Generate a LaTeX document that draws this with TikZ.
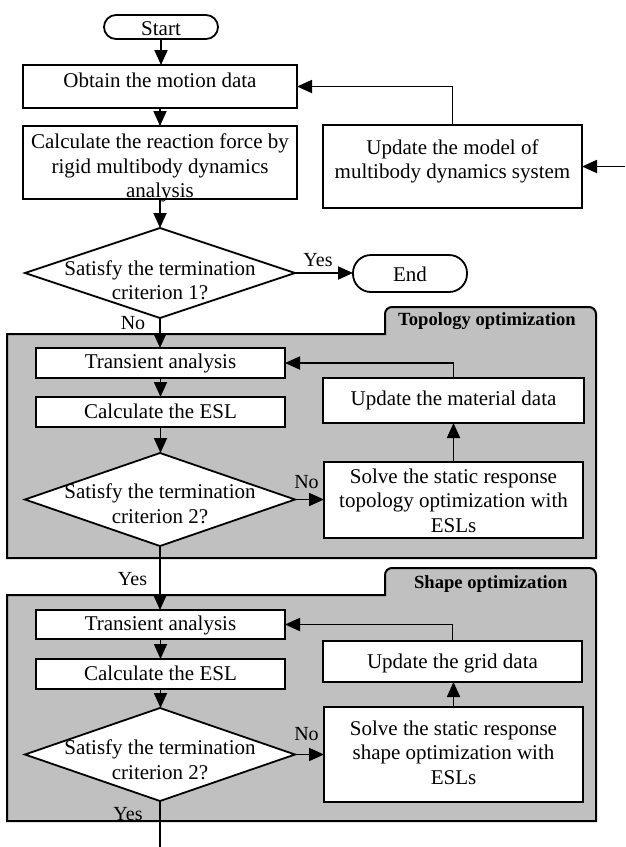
\documentclass[tikz,border=0pt]{standalone}
\usepackage{fontspec}
\setmainfont{Liberation Serif}
\usetikzlibrary{arrows.meta,shapes.geometric}
\definecolor{panelgray}{RGB}{192,192,192}
\newcommand\tx[2]{\makebox[0pt]{\raisebox{#1}[0pt][0pt]{\begin{tabular}[t]{@{}c@{}}#2\end{tabular}}}}
\begin{document}
\begin{tikzpicture}[x=1pt,y=-1pt,
  line width=1.8pt,
  font=\fontsize{21}{24.5}\selectfont,
  box/.style={draw,fill=white,rectangle,inner sep=0pt,outer sep=0pt},
  term/.style={box,rounded corners=12pt},
  dia/.style={draw,fill=white,diamond,inner sep=0pt,outer sep=0pt,minimum width=270pt,minimum height=90pt},
  panel/.style={draw,fill=panelgray,line width=2pt},
  plabel/.style={font=\fontsize{18.6}{22}\selectfont\bfseries,anchor=base},
  yn/.style={font=\fontsize{20}{24}\selectfont,anchor=base},
  arr/.style={-{Triangle[length=15pt,width=13pt]}}]
\useasboundingbox (0,0) rectangle (625,847);

% ---------- panels ----------
\draw[panel] (7,558) -- (7,334) -- (385,334) [rounded corners=7pt] -- (385,307) -- (596,307) [sharp corners] -- (596,558) -- cycle;
\node[plabel] (topo) at (487,325) {Topology optimization};
\draw[panel] (7,821) -- (7,595) -- (385,595) [rounded corners=7pt] -- (385,568) -- (596,568) [sharp corners] -- (596,821) -- cycle;
\node[plabel] (shapelbl) at (490.8,588.3) {Shape optimization};

% ---------- top part ----------
\node[term,minimum width=114pt,minimum height=24pt] (start) at (161,27) {\tx{-8pt}{Start}};
\node[box,minimum width=274pt,minimum height=43pt] (obtain) at (160,86.5) {\tx{-1pt}{Obtain the motion data}};
\node[box,minimum width=274pt,minimum height=73pt] (calc) at (160,162.5) {\tx{14pt}{Calculate the reaction force by\\rigid multibody dynamics\\analysis}};
\node[box,minimum width=259pt,minimum height=83pt] (model) at (452.5,166.5) {\tx{12.5pt}{Update the model of\\multibody dynamics system}};
\node[dia] (d1) at (160,273) {\tx{-2pt}{Satisfy the termination\\criterion 1?}};
\node[term,rounded corners=18pt,minimum width=114pt,minimum height=37pt] (stop) at (410,273.5) {\tx{-7.5pt}{End}};

% ---------- topology optimization ----------
\node[box,minimum width=249pt,minimum height=30pt] (ta1) at (160.5,363) {\tx{-5.3pt}{Transient analysis}};
\node[box,minimum width=249pt,minimum height=30pt] (ce1) at (160.5,412) {\tx{-6.3pt}{Calculate the ESL}};
\node[dia,minimum height=93pt] (d2) at (160,499.5) {\tx{1pt}{Satisfy the termination\\criterion 2?}};
\node[box,minimum width=261pt,minimum height=45pt] (umat) at (453.5,400.5) {\tx{-4.5pt}{Update the material data}};
\node[box,minimum width=259pt,minimum height=76pt] (solve1) at (453.5,500) {\tx{16.7pt}{Solve the static response\\topology optimization with\\ESLs}};

% ---------- shape optimization ----------
\node[box,minimum width=249pt,minimum height=29pt] (ta2) at (160.5,624.5) {\tx{-6.2pt}{Transient analysis}};
\node[box,minimum width=249pt,minimum height=30pt] (ce2) at (160.5,674) {\tx{-6pt}{Calculate the ESL}};
\node[dia,minimum height=93pt] (d3) at (160,754.5) {\tx{0pt}{Satisfy the termination\\criterion 2?}};
\node[box,minimum width=259pt,minimum height=41pt] (ugrid) at (452.5,661.5) {\tx{-6.8pt}{Update the grid data}};
\node[box,minimum width=259pt,minimum height=95pt] (solve2) at (453.5,754.5) {\tx{19.5pt}{Solve the static response\\shape optimization with\\ESLs}};

% ---------- connectors ----------
\coordinate (modelin) at (625,166.5);
\coordinate (exit) at (160,847);
\draw[arr] (start.south) -- (start.south |- obtain.north);
\draw[arr] (obtain) -- (calc);
\draw[arr] (calc) -- (d1);
\draw[arr] (d1.east) -- (d1.east -| stop.west);
\draw[arr] (modelin) -- (model.east);
\draw[arr] (model.north) |- (obtain.east);
\draw[arr] (d1.south) -- (d1.south |- ta1.north);

\draw[arr] (ta1.south) -- (ta1.south |- ce1.north);
\draw[arr] (ce1.south) -- (ce1.south |- d2.north);
\draw[arr] (d2.east) -- (d2.east -| solve1.west);
\draw[arr] (solve1.north) -- (solve1.north |- umat.south);
\draw[arr] (umat.north) |- (ta1.east);
\draw[arr] (d2.south) -- (d2.south |- ta2.north);

\draw[arr] (ta2.south) -- (ta2.south |- ce2.north);
\draw[arr] (ce2.south) -- (ce2.south |- d3.north);
\draw[arr] (d3.east) -- (d3.east -| solve2.west);
\draw[arr] (solve2.north) -- (solve2.north |- ugrid.south);
\draw[arr] (ugrid.north) |- (ta2.east);
\draw (d3.south) -- (exit);

% ---------- labels ----------
\node[yn] (yes1) at (318,266.7) {Yes};
\node[yn] (no1) at (133,329) {No};
\node[yn] (no2) at (306.5,488) {No};
\node[yn] (yes2) at (132.5,585.7) {Yes};
\node[yn] (no3) at (306.5,740) {No};
\node[yn] (yes3) at (128,820.7) {Yes};
\end{tikzpicture}
\end{document}
